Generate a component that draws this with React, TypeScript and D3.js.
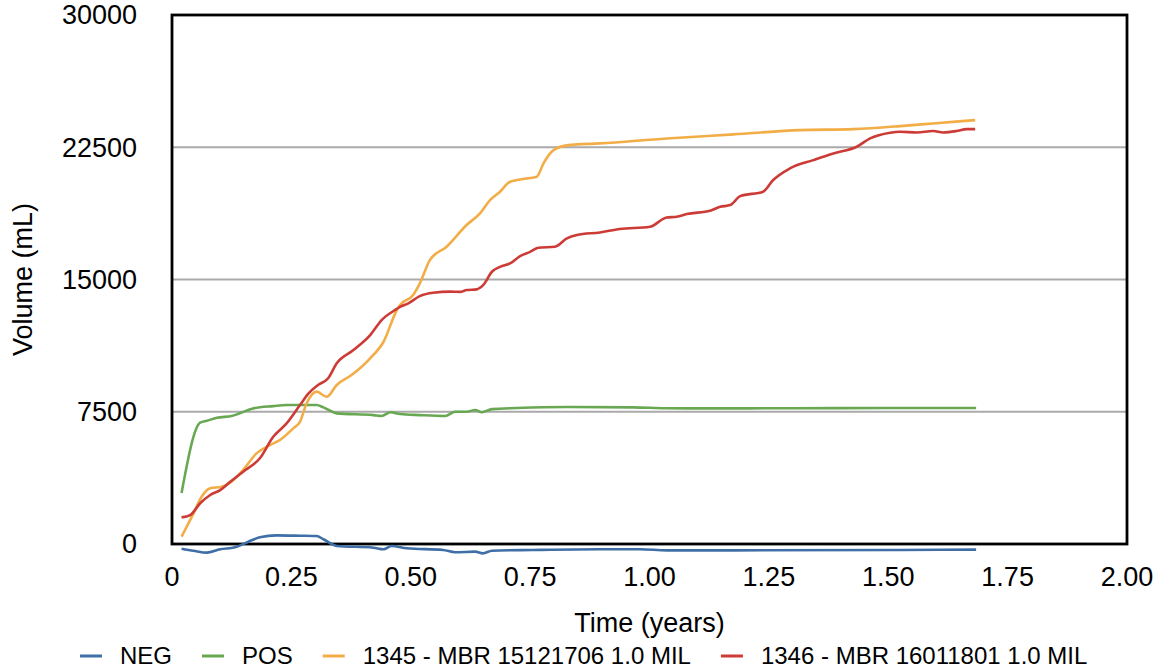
import React, { useEffect, useRef } from "react";
import * as d3 from "d3";

// time in years, volume in mL
const negSeries: [number, number][] = [
  [0.02, -265], [0.045, -380], [0.073, -490], [0.101, -300], [0.132, -190],
  [0.16, 130], [0.184, 380], [0.219, 490], [0.268, 470], [0.303, 450],
  [0.317, 270], [0.345, -110], [0.422, -210], [0.443, -300], [0.46, -110],
  [0.492, -245], [0.568, -340], [0.593, -470], [0.635, -435], [0.651, -530],
  [0.67, -380], [0.756, -340], [0.896, -300], [0.98, -300], [1.036, -360],
  [1.176, -360], [1.525, -340], [1.684, -320],
];

const posSeries: [number, number][] = [
  [0.02, 2890], [0.059, 6880], [0.073, 6990], [0.094, 7160], [0.125, 7260],
  [0.17, 7690], [0.212, 7820], [0.24, 7880], [0.303, 7880], [0.317, 7750],
  [0.345, 7410], [0.422, 7310], [0.439, 7260], [0.457, 7470], [0.478, 7370],
  [0.519, 7310], [0.572, 7260], [0.593, 7500], [0.617, 7500], [0.635, 7600],
  [0.649, 7470], [0.67, 7650], [0.722, 7710], [0.827, 7770], [0.966, 7750],
  [1.036, 7700], [1.106, 7690], [1.3, 7700], [1.5, 7710], [1.684, 7710],
];

const mbr1345Series: [number, number][] = [
  [0.02, 415], [0.045, 1740], [0.062, 2680], [0.08, 3160], [0.104, 3250],
  [0.122, 3480], [0.149, 4200], [0.177, 5140], [0.205, 5610], [0.226, 5900],
  [0.254, 6560], [0.268, 6930], [0.282, 7980], [0.303, 8640], [0.324, 8350],
  [0.345, 9020], [0.376, 9580], [0.415, 10530], [0.443, 11470], [0.471, 13270],
  [0.4775, 13550], [0.505, 14120], [0.519, 14780], [0.54, 16100], [0.575, 16860],
  [0.617, 18090], [0.645, 18750], [0.666, 19500], [0.687, 19980], [0.708, 20540],
  [0.743, 20730], [0.764, 20830], [0.778, 21590], [0.799, 22340], [0.83, 22620],
  [0.896, 22720], [1.036, 23000], [1.176, 23230], [1.315, 23470], [1.427, 23530],
  [1.525, 23700], [1.594, 23850], [1.682, 24040],
];

const mbr1346Series: [number, number][] = [
  [0.02, 1510], [0.038, 1640], [0.059, 2310], [0.08, 2780], [0.101, 3060],
  [0.122, 3530], [0.149, 4100], [0.184, 4860], [0.212, 6080], [0.24, 6840],
  [0.268, 7880], [0.286, 8540], [0.306, 9020], [0.327, 9400], [0.345, 10250],
  [0.38, 11000], [0.415, 11850], [0.439, 12700], [0.467, 13270], [0.4775, 13450],
  [0.495, 13650], [0.519, 14060], [0.547, 14250], [0.582, 14310], [0.603, 14300],
  [0.617, 14400], [0.638, 14440], [0.652, 14690], [0.67, 15440], [0.687, 15720],
  [0.708, 15910], [0.729, 16330], [0.75, 16570], [0.767, 16800], [0.802, 16860],
  [0.827, 17330], [0.848, 17520], [0.896, 17670], [0.938, 17860], [1.001, 17990],
  [1.036, 18520], [1.057, 18560], [1.078, 18710], [1.127, 18900], [1.148, 19120],
  [1.169, 19220], [1.19, 19730], [1.238, 19980], [1.259, 20640], [1.294, 21300],
  [1.343, 21770], [1.385, 22150], [1.434, 22530], [1.462, 23000], [1.504, 23320],
  [1.525, 23380], [1.56, 23340], [1.594, 23420], [1.615, 23340], [1.643, 23420],
  [1.664, 23530], [1.682, 23530],
];

const seriesNames = ["NEG", "POS", "1345 - MBR 15121706 1.0 MIL", "1346 - MBR 16011801 1.0 MIL"];
const seriesColors = ["#3f6fa6", "#68a852", "#f2ad47", "#cc3b36"];
const allSeries = [negSeries, posSeries, mbr1345Series, mbr1346Series];

const xTicks = [0, 0.25, 0.5, 0.75, 1, 1.25, 1.5, 1.75, 2];
const yTicks = [0, 7500, 15000, 22500, 30000];
const gridValues = [7500, 15000, 22500];

const FONT = "'Liberation Sans', Arial, Helvetica, sans-serif";

export default function App() {
  const svgRef = useRef<SVGSVGElement>(null);

  useEffect(() => {
    document.body.style.margin = "0";
    const svg = d3.select(svgRef.current);
    svg.selectAll("*").remove();

    const left = 172, right = 1127, top = 15, bottom = 544;

    const x = d3.scaleLinear().domain([0, 2]).range([left, right]);
    const y = d3.scaleLinear().domain([0, 30000]).range([bottom, top]);

    svg.append("rect").attr("width", 1173).attr("height", 668).attr("fill", "#fff");

    // grid
    svg.append("g")
      .selectAll("line")
      .data(gridValues)
      .enter()
      .append("line")
      .attr("x1", left)
      .attr("x2", right)
      .attr("y1", d => y(d))
      .attr("y2", d => y(d))
      .attr("stroke", "#aaaaaa")
      .attr("stroke-width", 2);

    // frame
    svg.append("rect")
      .attr("x", left)
      .attr("y", top)
      .attr("width", right - left)
      .attr("height", bottom - top)
      .attr("fill", "none")
      .attr("stroke", "#000")
      .attr("stroke-width", 2.8);

    const line = d3.line<[number, number]>()
      .x(d => x(d[0]))
      .y(d => y(d[1]))
      .curve(d3.curveMonotoneX);

    allSeries.forEach((s, i) => {
      svg.append("path")
        .attr("d", line(s))
        .attr("fill", "none")
        .attr("stroke", seriesColors[i])
        .attr("stroke-width", 2.6)
        .attr("stroke-linejoin", "round");
    });

    // y tick labels
    svg.append("g")
      .selectAll("text")
      .data(yTicks)
      .enter()
      .append("text")
      .attr("x", 137)
      .attr("y", d => y(d))
      .attr("dy", "0.35em")
      .attr("text-anchor", "end")
      .attr("font-family", FONT)
      .attr("font-size", 27)
      .text(d => String(d));

    // x tick labels
    svg.append("g")
      .selectAll("text")
      .data(xTicks)
      .enter()
      .append("text")
      .attr("x", d => x(d))
      .attr("y", 586)
      .attr("text-anchor", "middle")
      .attr("font-family", FONT)
      .attr("font-size", 27)
      .text(d => (d === 0 ? "0" : d3.format(".2f")(d)));

    // axis titles
    svg.append("text")
      .attr("x", (left + right) / 2)
      .attr("y", 632)
      .attr("text-anchor", "middle")
      .attr("font-family", FONT)
      .attr("font-size", 27)
      .text("Time (years)");

    svg.append("text")
      .attr("transform", `translate(32, ${(top + bottom) / 2}) rotate(-90)`)
      .attr("text-anchor", "middle")
      .attr("font-family", FONT)
      .attr("font-size", 27)
      .text("Volume (mL)");

    // legend
    const legend = svg.append("g");
    let cx = 80;
    const ly = 656;
    seriesNames.forEach((name, i) => {
      legend.append("line")
        .attr("x1", cx)
        .attr("x2", cx + 22)
        .attr("y1", ly)
        .attr("y2", ly)
        .attr("stroke", seriesColors[i])
        .attr("stroke-width", 3);
      const t = legend.append("text")
        .attr("x", cx + 40)
        .attr("y", ly)
        .attr("dy", "0.35em")
        .attr("font-family", FONT)
        .attr("font-size", 24)
        .text(name);
      const w = (t.node() as SVGTextElement).getComputedTextLength();
      cx = cx + 40 + w + 30;
    });
  }, []);

  return <svg ref={svgRef} width={1173} height={668} style={{ display: "block" }} />;
}
